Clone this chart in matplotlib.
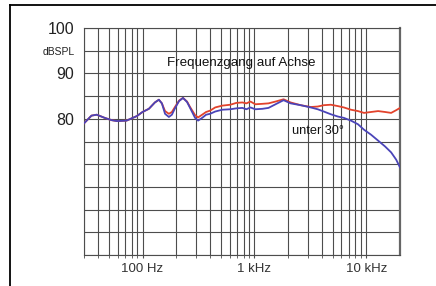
import matplotlib
matplotlib.use("Agg")
import matplotlib.pyplot as plt
from matplotlib.lines import Line2D
from matplotlib.ticker import FixedLocator, NullFormatter

plt.rcParams['font.family'] = ['Liberation Sans', 'DejaVu Sans']

# frequency response on axis (red) and at 30 degrees (blue)
freq = [30, 35, 39, 46, 53, 59, 72, 89, 100, 114, 129, 140, 149,
        159, 172, 183, 195, 212, 230, 250, 266, 295, 314, 341, 370, 402,
        446, 516, 609, 689, 780, 848, 921, 1020, 1180, 1336, 1544, 1822,
        2106, 2590, 3186, 3681, 4169, 4818, 5568, 6303, 7287, 8421, 9535,
        11020, 12740, 14720, 16670, 18490, 20000]

on_axis = [79.0, 80.7, 80.9, 80.2, 79.7, 79.5, 79.6, 80.6, 81.5, 82.2, 83.6, 84.2, 83.4,
           81.7, 81.1, 81.5, 82.6, 84.0, 84.6, 83.8, 82.6, 80.8, 80.3, 80.9, 81.5, 81.8,
           82.5, 82.9, 83.1, 83.5, 83.6, 83.4, 83.8, 83.2, 83.3, 83.4, 83.8, 84.3,
           83.6, 83.0, 82.6, 82.7, 83.0, 83.1, 82.8, 82.5, 82.0, 81.7, 81.3,
           81.5, 81.7, 81.5, 81.3, 81.9, 82.4]

off_30 = [79.0, 80.7, 80.9, 80.2, 79.7, 79.5, 79.6, 80.6, 81.5, 82.2, 83.6, 84.2, 83.4,
          81.1, 80.4, 80.9, 82.3, 83.9, 84.6, 83.7, 82.4, 80.2, 79.6, 80.2, 80.9, 81.1,
          81.6, 82.0, 82.1, 82.3, 82.4, 82.1, 82.5, 82.1, 82.2, 82.4, 83.2, 84.1,
          83.4, 83.0, 82.5, 82.1, 81.6, 81.0, 80.5, 80.2, 79.6, 78.8, 77.6,
          76.5, 75.2, 73.9, 72.6, 71.0, 69.3]

y_ticks = [50, 55, 60, 65, 70, 75, 80, 85, 90, 95, 100]
y_labels = ['', '', '', '', '', '', '80', '', '90', 'dBSPL', '100']
x_major = [100, 1000, 10000]
x_labels = ['100 Hz', '1 kHz', '10 kHz']
x_minor = [30, 40, 50, 60, 70, 80, 90, 200, 300, 400, 500, 600, 700, 800, 900,
           2000, 3000, 4000, 5000, 6000, 7000, 8000, 9000]

fig = plt.figure(figsize=(4.36, 2.86), dpi=100)
ax = fig.add_axes([84 / 436, 31 / 286, 316 / 436, 227 / 286])

ax.plot(freq, on_axis, color='#e2432c', lw=1.3, zorder=3)
ax.plot(freq, off_30, color='#4a44b8', lw=1.3, zorder=4)

ax.set_xscale('log')
ax.set_xlim(30, 20000)
ax.set_ylim(50, 100)

ax.xaxis.set_major_locator(FixedLocator(x_major))
ax.xaxis.set_minor_locator(FixedLocator(x_minor))
ax.xaxis.set_minor_formatter(NullFormatter())
ax.set_xticklabels(x_labels, fontsize=9.5, color='#333333')
ax.set_yticks(y_ticks)
ax.set_yticklabels(y_labels, fontsize=11.5, color='#222222')
for t in ax.get_yticklabels():
    if t.get_text() == 'dBSPL':
        t.set_fontsize(7.5)

ax.grid(True, which='both', color='#4d4d4d', lw=0.8)
ax.tick_params(axis='x', which='both', direction='out', length=2, color='#4d4d4d', pad=4)
ax.tick_params(axis='y', length=0, pad=7)
for s in ['left', 'bottom', 'top']:
    ax.spines[s].set_color('#4d4d4d')
    ax.spines[s].set_linewidth(0.8)
ax.spines['right'].set_color('#666666')
ax.spines['right'].set_linewidth(1.6)

ax.text(764, 92.2, 'Frequenzgang auf Achse', fontsize=9.6, color='#111111',
        ha='center', va='center')
ax.text(2180, 77.4, 'unter 30°', fontsize=9.2, color='#111111', ha='left', va='center')

# frame lines of the picture (top and left)
fig.add_artist(Line2D([10 / 436, 1], [1 - 5 / 286, 1 - 5 / 286], color='black', lw=1.3,
                      transform=fig.transFigure))
fig.add_artist(Line2D([10 / 436, 10 / 436], [0, 1 - 5 / 286], color='black', lw=1.3,
                      transform=fig.transFigure))

fig.savefig('out.png', dpi=100)
